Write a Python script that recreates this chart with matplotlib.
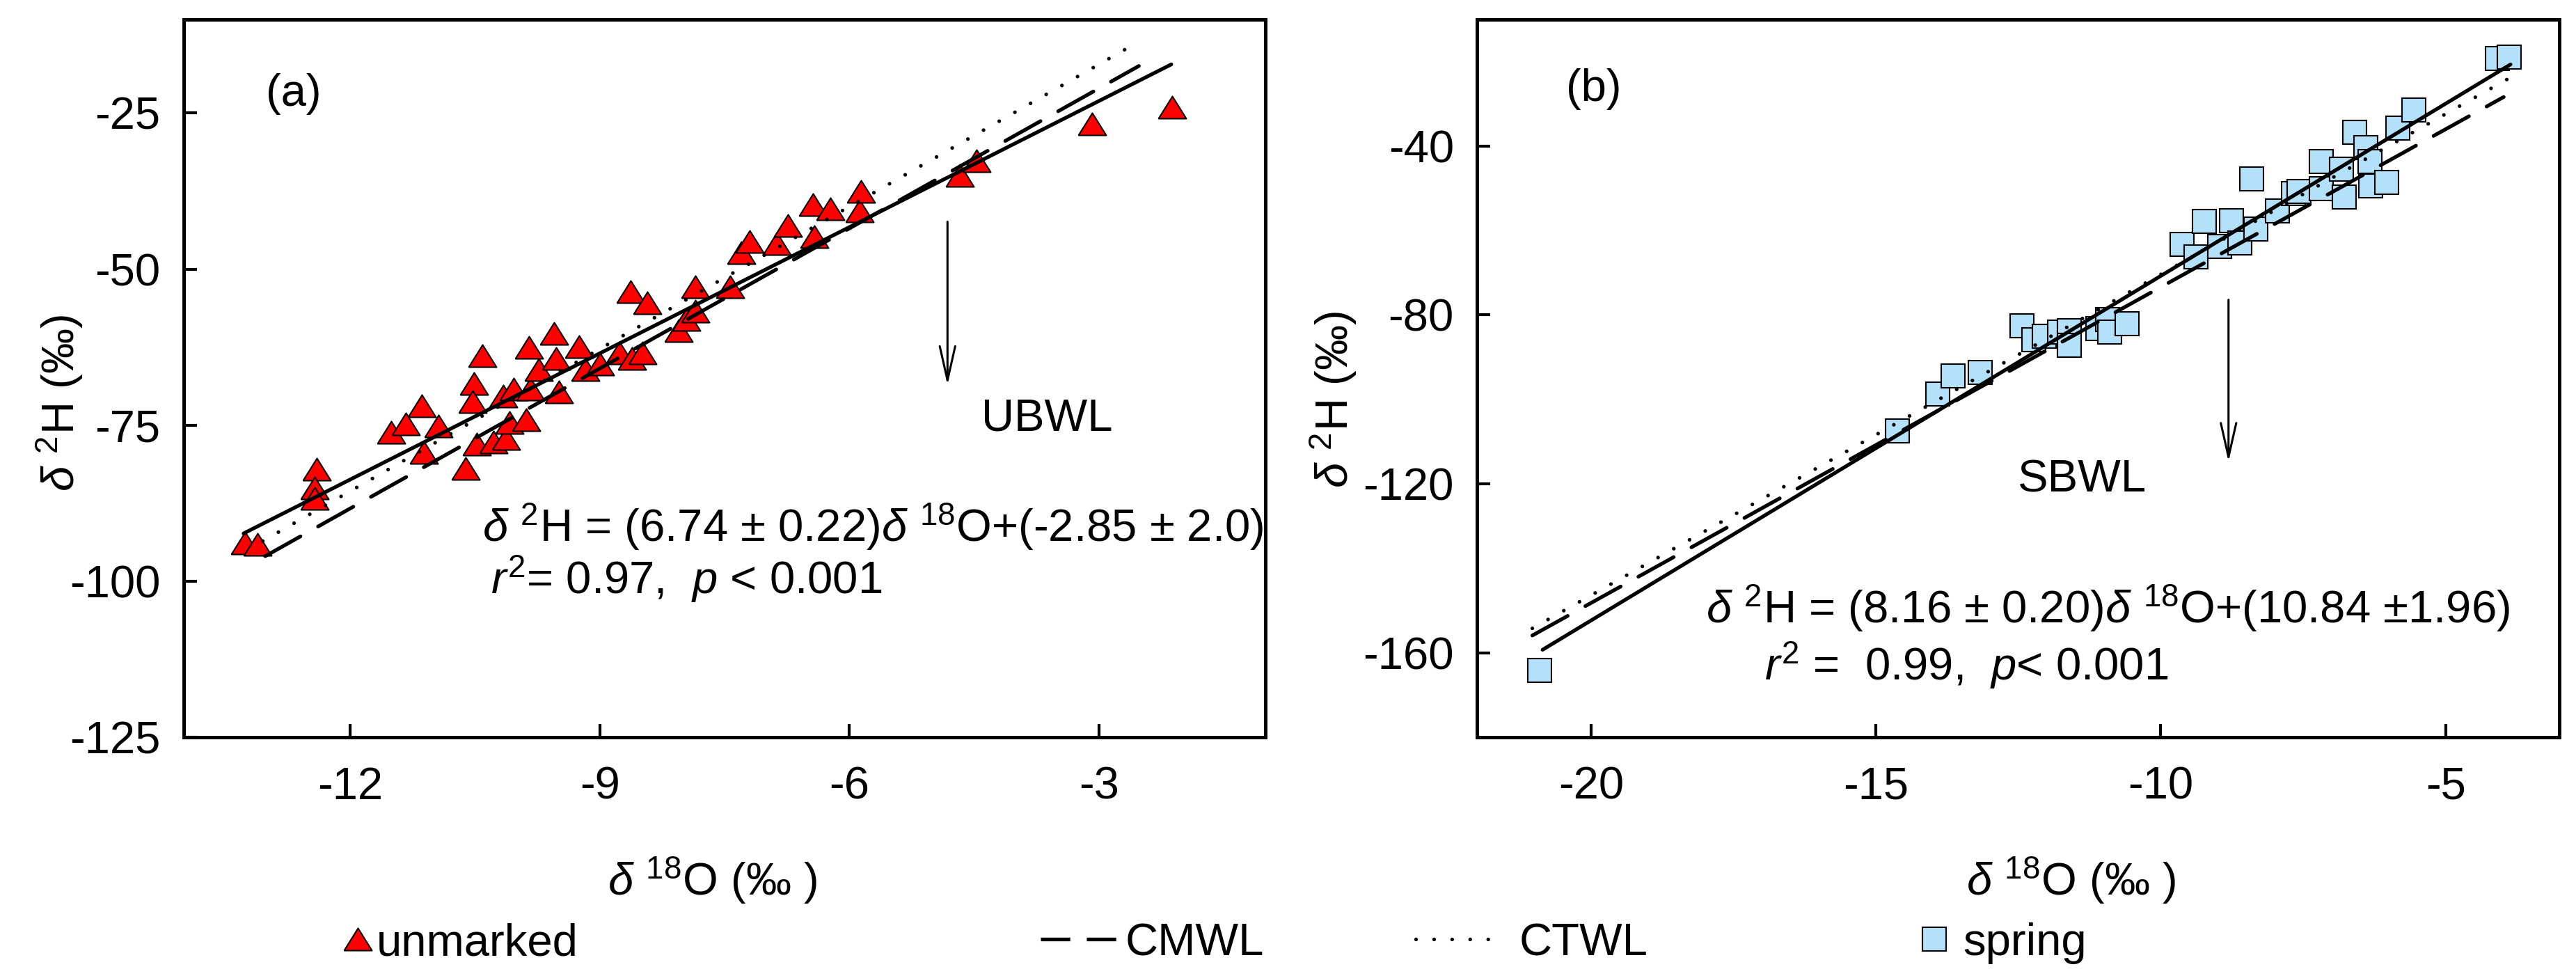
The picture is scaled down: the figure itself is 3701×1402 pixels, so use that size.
import matplotlib
matplotlib.use("Agg")
import matplotlib.pyplot as plt
from matplotlib.lines import Line2D
import numpy as np

plt.rcParams.update({
    "font.family": ["Liberation Sans", "DejaVu Sans"],
    "font.size": 47,
    "mathtext.fontset": "custom",
    "mathtext.rm": "Liberation Sans",
    "mathtext.it": "Liberation Sans:italic",
    "axes.unicode_minus": False,
})

# ── Data ────────────────────────────────────────────────────────────────────

# (a) unmarked waters
ubw_o18 = [-13.26, -13.11, -12.40, -12.43, -12.43, -11.51, -11.33, -11.14, -11.11,
           -10.94, -10.61, -10.51, -10.53, -10.41, -10.48, -10.28, -10.13, -10.16,
           -10.03, -10.08, -9.88, -9.85, -9.83, -9.73, -9.55, -9.52, -9.49, -9.25,
           -9.17, -9.00, -8.76, -8.63, -8.61, -8.49, -8.43, -8.05, -7.96, -7.85,
           -7.85, -7.43, -7.30, -7.20, -6.87, -6.74, -6.44, -6.42, -6.23, -5.88,
           -5.86, -4.67, -4.47, -3.08, -2.12]
ubw_h2 = [-93.9, -94.1, -82.1, -85.1, -86.8, -76.2, -74.8, -71.9, -79.4,
          -75.2, -81.9, -68.3, -71.2, -63.9, -78.1, -77.7, -77.2, -70.4,
          -69.2, -74.6, -74.1, -62.5, -69.2, -66.1, -60.3, -64.3, -69.7, -62.4,
          -66.1, -65.2, -63.4, -53.6, -64.3, -63.4, -55.4, -59.9, -58.1, -52.8,
          -56.8, -52.8, -47.4, -45.6, -45.9, -43.0, -39.7, -44.8, -40.3, -40.7,
          -37.6, -35.0, -32.6, -26.7, -24.1]

# (b) springs
spr_o18 = [-20.90, -14.62, -13.92, -13.64, -13.17, -12.44, -12.23, -12.05, -11.78,
           -11.60, -11.60, -11.11, -10.93, -10.90, -10.59, -9.63, -9.38, -9.24,
           -8.97, -8.76, -8.61, -8.41, -8.33, -7.95, -7.67, -7.57, -7.18, -7.18,
           -6.83, -6.78, -6.59, -6.40, -6.33, -6.31, -6.03, -5.84, -5.56, -4.09, -3.88]
spr_h2 = [-164.2, -107.4, -98.8, -94.5, -93.6, -82.6, -85.9, -85.0, -84.1,
          -83.7, -87.2, -83.3, -81.1, -84.1, -82.1, -63.3, -66.2, -57.8,
          -63.7, -57.6, -63.0, -47.8, -59.6, -55.4, -51.2, -50.8, -43.6, -50.1,
          -45.5, -52.1, -36.7, -40.3, -43.6, -49.5, -48.6, -35.7, -31.4, -19.2, -18.9]

# water lines: slope, intercept
ubwl = (6.74, -2.85)
sbwl = (8.16, 10.84)
cmwl = (7.48, 1.39)
ctwl = (7.60, 5.60)

# x-extent of each line in the two panels
a_fit_x = [-13.28, -2.13]
a_cmwl_x = [-13.02, -2.52]
a_ctwl_x = [-13.05, -2.68]
b_fit_x = [-20.85, -3.86]
b_cmwl_x = [-21.03, -3.98]
b_ctwl_x = [-21.03, -3.83]

a_xticks = [-12, -9, -6, -3]
a_yticks = [-125, -100, -75, -50, -25]
b_xticks = [-20, -15, -10, -5]
b_yticks = [-160, -120, -80, -40]

# ── Styles ───────────────────────────────────────────────────────────────────

TRI = [(-1, -0.8), (1, -0.8), (0, 0.8), (-1, -0.8)]
RED = "#FF0000"
BLUE = "#B4E1FA"
LW = 3.8
DASH = (0, (11.0, 5.5))
DOT = (0, (0.01, 4.9))

fig = plt.figure(figsize=(37.01, 14.02), dpi=100)
ax_a = fig.add_axes([0.0713, 0.2447, 0.4199, 0.7354])
ax_b = fig.add_axes([0.5734, 0.2447, 0.4202, 0.7354])


def line(ax, params, xr, **kw):
    x = np.array(xr)
    ax.plot(x, params[0] * x + params[1], zorder=4, **kw)


def style_axis(ax, xlim, ylim, xt, yt):
    ax.set_xlim(*xlim)
    ax.set_ylim(*ylim)
    ax.set_xticks(xt)
    ax.set_yticks(yt)
    for s in ax.spines.values():
        s.set_linewidth(3.6)
    ax.tick_params(direction="in", length=13.5, width=3.0, labelsize=47)
    ax.tick_params(axis="x", pad=30)
    ax.tick_params(axis="y", pad=24)


# ── Panel (a) ────────────────────────────────────────────────────────────────
ax = ax_a
ax.plot(ubw_o18, ubw_h2, ls="none", marker=TRI, ms=28.8, mfc=RED, mec="black",
        mew=1.5, zorder=3)
line(ax, ubwl, a_fit_x, color="black", lw=LW, solid_capstyle="round")
line(ax, cmwl, a_cmwl_x, color="black", lw=LW, ls=DASH, dash_capstyle="round")
line(ax, ctwl, a_ctwl_x, color="black", lw=LW, ls=DOT, dash_capstyle="round")
style_axis(ax, (-14, -1), (-125, -10), a_xticks, a_yticks)
ax.text(-12.68, -22.0, "(a)", ha="center", va="center")
ax.annotate("", xy=(-4.82, -68.6), xytext=(-4.82, -42.4),
            arrowprops=dict(arrowstyle="->,head_length=0.75,head_width=0.17",
                            lw=2.2, color="black", shrinkA=0, shrinkB=0))
ax.text(-3.62, -74.0, "UBWL", ha="center", va="center")
ax.text(-10.41, -91.3, r"$\delta$ $^{2}$H = (6.74 ± 0.22)$\delta$ $^{18}$O+(-2.85 ± 2.0)",
        ha="left", va="center")
ax.text(-10.31, -99.6, r"$r^{2}$= 0.97,  $p$ < 0.001", ha="left", va="center")
ax.text(-0.115, 0.465, r"$\delta$ $^{2}$H (‰)", rotation=90, ha="center", va="center",
        transform=ax.transAxes)
ax.text(0.489, -0.199, r"$\delta$ $^{18}$O (‰ )", ha="center", va="center",
        transform=ax.transAxes)

# ── Panel (b) ────────────────────────────────────────────────────────────────
ax = ax_b
ax.plot(spr_o18, spr_h2, ls="none", marker="s", ms=24.5, mfc=BLUE, mec="black",
        mew=1.5, zorder=3)
line(ax, sbwl, b_fit_x, color="black", lw=LW, solid_capstyle="round")
line(ax, cmwl, b_cmwl_x, color="black", lw=LW, ls=DASH, dash_capstyle="round")
line(ax, ctwl, b_ctwl_x, color="black", lw=LW, ls=DOT, dash_capstyle="round")
style_axis(ax, (-22, -3), (-180, -10), b_xticks, b_yticks)
ax.text(-19.95, -26.5, "(b)", ha="center", va="center")
ax.annotate("", xy=(-8.81, -114.8), xytext=(-8.81, -76.4),
            arrowprops=dict(arrowstyle="->,head_length=0.75,head_width=0.17",
                            lw=2.2, color="black", shrinkA=0, shrinkB=0))
ax.text(-11.38, -119.1, "SBWL", ha="center", va="center")
ax.text(-17.98, -149.5, r"$\delta$ $^{2}$H = (8.16 ± 0.20)$\delta$ $^{18}$O+(10.84 ±1.96)",
        ha="left", va="center")
ax.text(-16.95, -163.0, r"$r^{2}$ =  0.99,  $p$< 0.001", ha="left", va="center")
ax.text(-0.133, 0.47, r"$\delta$ $^{2}$H (‰)", rotation=90, ha="center", va="center",
        transform=ax.transAxes)
ax.text(0.549, -0.199, r"$\delta$ $^{18}$O (‰ )", ha="center", va="center",
        transform=ax.transAxes)

# ── Legend row ───────────────────────────────────────────────────────────────
W = 3701.0
ly = 0.0335
items = [
    (Line2D([], [], ls="none", marker=TRI, ms=28.8, mfc=RED, mec="black", mew=1.5),
     "unmarked", 493, 0.63, 0.10),
    (Line2D([], [], color="black", lw=LW, ls=(0, (8.0, 4.5)), dash_capstyle="butt"),
     "CMWL", 1495, 1.72, 0.14),
    (Line2D([], [], color="black", lw=LW, ls=DOT, dash_capstyle="round"),
     "CTWL", 2034, 1.80, 0.47),
    (Line2D([], [], ls="none", marker="s", ms=24.5, mfc=BLUE, mec="black", mew=1.5),
     "spring", 2761, 0.55, 0.35),
]
for h, lab, x0, hl, tp in items:
    fig.legend(handles=[h], labels=[lab], loc="center left",
               bbox_to_anchor=(x0 / W, ly), frameon=False, borderpad=0,
               borderaxespad=0, handlelength=hl, handletextpad=tp, fontsize=47)

fig.savefig("out.png", dpi=100)
